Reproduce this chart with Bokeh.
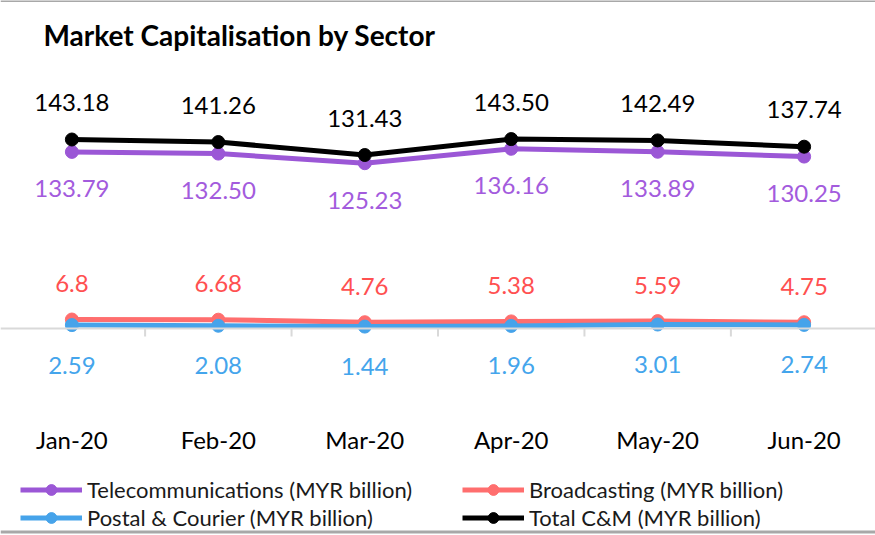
from bokeh.plotting import figure
from bokeh.layouts import column
from bokeh.models import (FactorRange, Range1d, Span, Label, Legend, LegendItem,
                          ColumnDataSource)
from bokeh.embed import file_html
from bokeh.resources import INLINE
from bokeh.core.properties import value

# ---------------- data ----------------
months = ["Jan-20", "Feb-20", "Mar-20", "Apr-20", "May-20", "Jun-20"]
telecom = [133.79, 132.50, 125.23, 136.16, 133.89, 130.25]
broadcasting = [6.8, 6.68, 4.76, 5.38, 5.59, 4.75]
postal = [2.59, 2.08, 1.44, 1.96, 3.01, 2.74]
total = [143.18, 141.26, 131.43, 143.50, 142.49, 137.74]

series_names = ["Telecommunications (MYR billion)", "Broadcasting (MYR billion)",
                "Postal & Courier (MYR billion)", "Total C&M (MYR billion)"]

# ---------------- layout / style ----------------
FONT = "Lato"
W = 875
H_CHART = 475
H_LEGEND = 60
PX_PER_UNIT = 1.32
ZERO_Y = 328          # pixel row of value 0 from chart top
FRAME_BOTTOM = 424    # pixel row of frame bottom from chart top
BORDER_BOTTOM = H_CHART - FRAME_BOTTOM
EDGE_COLOR = "#A8A8A8"

y_end = ZERO_Y / PX_PER_UNIT
y_start = -(FRAME_BOTTOM - ZERO_Y) / PX_PER_UNIT

p = figure(width=W, height=H_CHART,
           x_range=FactorRange(factors=months, range_padding=-0.0042,
                               range_padding_units="percent"),
           y_range=Range1d(y_start, y_end),
           y_axis_location=None,
           output_backend="svg", toolbar_location=None,
           min_border_left=0, min_border_right=0, min_border_top=0,
           min_border_bottom=BORDER_BOTTOM)
p.outline_line_color = None
p.xgrid.visible = False
p.ygrid.visible = False
p.background_fill_color = "white"
p.border_fill_color = "white"

xa = p.xaxis[0]
xa.axis_line_color = None
xa.major_tick_line_color = None
xa.minor_tick_line_color = None
xa.major_tick_out = 0
xa.major_tick_in = 0
xa.major_label_standoff = 0
xa.major_label_text_font = FONT
xa.major_label_text_font_size = "24px"
xa.major_label_text_color = "black"

# thin grey edge along the top of the picture
p.add_layout(Span(location=y_end, dimension="width", line_color=EDGE_COLOR, line_width=3))

# horizontal axis line at zero and category boundary ticks
p.add_layout(Span(location=0, dimension="width", line_color="#D9D9D9", line_width=2))
bounds = list(range(1, len(months)))
p.segment(x0=bounds, y0=[0] * len(bounds), x1=bounds, y1=[-6] * len(bounds),
          line_color="#D9D9D9", line_width=2)

line_colors = ["#9B57D6", "#FF6E6E", "#46A3EA", "#000000"]
label_colors = ["#A35BDD", "#FF5050", "#44A5EC", "#000000"]
label_offsets = [37, -36, 40, -37]
values = [telecom, broadcasting, postal, total]
fmt = [lambda v: f"{v:.2f}", lambda v: f"{v:g}", lambda v: f"{v:.2f}", lambda v: f"{v:.2f}"]

for name, vals, lc, tc, off, f in zip(series_names, values, line_colors, label_colors,
                                      label_offsets, fmt):
    src = ColumnDataSource(dict(x=months, y=vals, t=[f(v) for v in vals]))
    p.line("x", "y", source=src, line_color=lc, line_width=5)
    p.scatter("x", "y", source=src, size=13, fill_color=lc, line_color=lc)
    p.text("x", "y", text="t", source=src, y_offset=off, text_align="center",
           text_baseline="middle", text_color=tc, text_font=value(FONT),
           text_font_size="24px")

# title
p.add_layout(Label(x=43, y=(ZERO_Y - 34) / PX_PER_UNIT, x_units="screen", y_units="data",
                   text="Market Capitalisation by Sector", text_font=FONT,
                   text_font_size="28px", text_font_style="bold", text_color="black",
                   text_baseline="middle"))

# ---------------- legend strip ----------------
pl = figure(width=W, height=H_LEGEND, x_range=Range1d(0, 1), y_range=Range1d(0, 1),
            x_axis_location=None, y_axis_location=None,
            output_backend="svg", toolbar_location=None,
            min_border_left=0, min_border_right=0, min_border_top=0, min_border_bottom=0)
pl.outline_line_color = None
pl.xgrid.visible = False
pl.ygrid.visible = False
pl.border_fill_color = "white"

# grey edge along the bottom of the picture
pl.add_layout(Span(location=3.5, location_units="screen", dimension="width",
                   line_color=EDGE_COLOR, line_width=3))

nan = float("nan")
items = {}
for name, lc in zip(series_names, line_colors):
    # legend-only renderers (no visible data point)
    ln = pl.line(x=[nan], y=[nan], line_color=lc, line_width=5)
    sc = pl.scatter(x=[nan], y=[nan], size=10, fill_color=lc, line_color=lc)
    items[name] = LegendItem(label=name, renderers=[ln, sc])

# column-major order: col 1 = Telecom, Postal; col 2 = Broadcasting, Total
legend_order = [series_names[0], series_names[2], series_names[1], series_names[3]]
legend = Legend(items=[items[n] for n in legend_order], location=(20, 4),
                orientation="vertical", nrows=2,
                margin=0, padding=0, spacing=1, glyph_width=62, glyph_height=27,
                label_height=27, label_standoff=5, label_width=374,
                label_text_font=FONT, label_text_font_size="22px",
                label_text_color="#1a1a1a",
                border_line_color=None, background_fill_alpha=0)
pl.add_layout(legend, "center")

layout = column(p, pl, spacing=0)
open("out.html", "w").write(file_html(layout, INLINE))
